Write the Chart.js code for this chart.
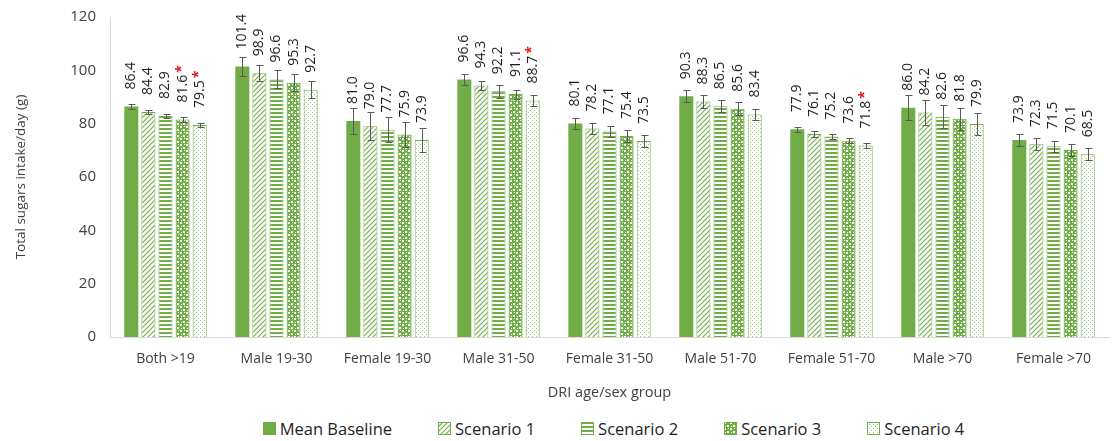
<!DOCTYPE html>
<html>
<head>
<meta charset="utf-8">
<script src="https://cdn.jsdelivr.net/npm/chart.js@4.4.1/dist/chart.umd.min.js"></script>
<style>
    html, body { margin: 0; padding: 0; background: #fff; }
    #wrap { position: relative; width: 1115px; height: 441px; }
    #chartBox { position: absolute; left: 0; top: 0; }
    #legend {
        position: absolute; left: 114px; right: 2px; top: 416px; height: 24px;
        display: flex; justify-content: center; align-items: center;
        font-family: "Open Sans", sans-serif; font-size: 16.5px; color: #1f1f1f;
    }
    #legend .item { display: flex; align-items: center; margin: 0 23px; }
    #legend canvas { width: 13px; height: 13px; margin-right: 4px; }
</style>
</head>
<body>
<div id="wrap">
    <canvas id="chartBox" width="1115" height="412"></canvas>
    <div id="legend"></div>
</div>
<script>
// Data
const categories = ['Both >19', 'Male 19-30', 'Female 19-30', 'Male 31-50', 'Female 31-50',
    'Male 51-70', 'Female 51-70', 'Male >70', 'Female >70'];
const seriesNames = ['Mean Baseline', 'Scenario 1', 'Scenario 2', 'Scenario 3', 'Scenario 4'];

const baseline  = [86.4, 101.4, 81.0, 96.6, 80.1, 90.3, 77.9, 86.0, 73.9];
const scenario1 = [84.4, 98.9, 79.0, 94.3, 78.2, 88.3, 76.1, 84.2, 72.3];
const scenario2 = [82.9, 96.6, 77.7, 92.2, 77.1, 86.5, 75.2, 82.6, 71.5];
const scenario3 = [81.6, 95.3, 75.9, 91.1, 75.4, 85.6, 73.6, 81.8, 70.1];
const scenario4 = [79.5, 92.7, 73.9, 88.7, 73.5, 83.4, 71.8, 79.9, 68.5];

// standard errors (half-length of whiskers)
const baselineErr  = [1.0, 3.6, 5.0, 2.2, 2.2, 2.2, 0.9, 4.8, 2.2];
const scenario1Err = [0.9, 3.0, 5.2, 1.6, 2.2, 2.4, 1.0, 4.6, 2.2];
const scenario2Err = [0.9, 3.4, 4.7, 2.4, 2.0, 2.2, 1.0, 4.4, 2.1];
const scenario3Err = [0.8, 3.2, 4.6, 1.7, 2.2, 2.5, 1.0, 4.2, 2.2];
const scenario4Err = [0.8, 3.2, 4.4, 2.0, 2.2, 2.1, 1.0, 4.0, 2.2];

// significant difference markers (red asterisk)
const baselineSig  = [false, false, false, false, false, false, false, false, false];
const scenario1Sig = [false, false, false, false, false, false, false, false, false];
const scenario2Sig = [false, false, false, false, false, false, false, false, false];
const scenario3Sig = [true, false, false, false, false, false, false, false, false];
const scenario4Sig = [true, false, false, true, false, false, true, false, false];

const yMin = 0, yMax = 120, yStep = 20;

const GREEN = '#70AD47';
const FONT = '"Open Sans", sans-serif';

// Pattern fills like Excel's pattern presets
function makePattern(kind) {
    const c = document.createElement('canvas');
    const g = c.getContext('2d');
    if (kind === 'diag') {
        c.width = c.height = 5;
        g.fillStyle = '#fff';
        g.fillRect(0, 0, 5, 5);
        g.strokeStyle = GREEN;
        g.lineWidth = 1.1;
        g.beginPath();
        g.moveTo(-1, 6); g.lineTo(6, -1);
        g.moveTo(-1, 1); g.lineTo(1, -1);
        g.moveTo(4, 6); g.lineTo(6, 4);
        g.stroke();
    } else if (kind === 'horiz') {
        c.width = c.height = 4;
        g.fillStyle = '#fff';
        g.fillRect(0, 0, 4, 4);
        g.fillStyle = GREEN;
        g.fillRect(0, 0, 4, 2);
    } else if (kind === 'confetti') {
        c.width = c.height = 6;
        g.fillStyle = GREEN;
        g.fillRect(0, 0, 6, 6);
        g.fillStyle = '#fff';
        g.fillRect(0, 0, 2, 2);
        g.fillRect(3, 3, 2, 2);
        g.fillRect(4, 0, 1, 1);
        g.fillRect(1, 4, 1, 1);
    } else {
        c.width = c.height = 4;
        g.fillStyle = '#fff';
        g.fillRect(0, 0, 4, 4);
        g.fillStyle = '#9cc97e';
        g.fillRect(0, 0, 1, 1);
        g.fillRect(2, 2, 1, 1);
    }
    return g.createPattern(c, 'repeat');
}

const fills = [GREEN, makePattern('diag'), makePattern('horiz'), makePattern('confetti'), makePattern('dots')];
const seriesData = [baseline, scenario1, scenario2, scenario3, scenario4];
const seriesErr = [baselineErr, scenario1Err, scenario2Err, scenario3Err, scenario4Err];
const seriesSig = [baselineSig, scenario1Sig, scenario2Sig, scenario3Sig, scenario4Sig];

const datasets = seriesNames.map((name, i) => ({
    label: name,
    data: seriesData[i],
    errors: seriesErr[i],
    sig: seriesSig[i],
    backgroundColor: fills[i],
    borderColor: GREEN,
    borderWidth: i === 0 ? 0 : 1,
    categoryPercentage: 0.77,
    barPercentage: 0.82
}));

// Error bars drawn on top of the bars
const errorBarPlugin = {
    id: 'errorBars',
    afterDatasetsDraw(chart) {
        const ctx = chart.ctx;
        const y = chart.scales.y;
        ctx.save();
        ctx.strokeStyle = '#595959';
        ctx.lineWidth = 1;
        chart.data.datasets.forEach((ds, i) => {
            chart.getDatasetMeta(i).data.forEach((bar, j) => {
                const v = ds.data[j], e = ds.errors[j];
                const top = Math.round(y.getPixelForValue(v + e)) + 0.5;
                const bot = Math.round(y.getPixelForValue(v - e)) + 0.5;
                const x = Math.round(bar.x) + 0.5;
                ctx.beginPath();
                ctx.moveTo(x, top); ctx.lineTo(x, bot);
                ctx.moveTo(x - 3, top); ctx.lineTo(x + 4, top);
                ctx.moveTo(x - 3, bot); ctx.lineTo(x + 4, bot);
                ctx.stroke();
            });
        });
        ctx.restore();
    }
};

// Rotated value labels with significance asterisk
const valueLabelPlugin = {
    id: 'valueLabels',
    afterDatasetsDraw(chart) {
        const ctx = chart.ctx;
        ctx.save();
        chart.data.datasets.forEach((ds, i) => {
            chart.getDatasetMeta(i).data.forEach((bar, j) => {
                const txt = ds.data[j].toFixed(1);
                ctx.save();
                ctx.translate(bar.x, bar.y - 17);
                ctx.rotate(-Math.PI / 2);
                ctx.font = '14px ' + FONT;
                ctx.fillStyle = '#1f1f1f';
                ctx.textAlign = 'left';
                ctx.textBaseline = 'middle';
                ctx.fillText(txt, 0, 0);
                if (ds.sig[j]) {
                    const w = ctx.measureText(txt).width;
                    ctx.font = 'bold 14px ' + FONT;
                    ctx.fillStyle = '#e8141b';
                    ctx.fillText('*', w + 2, -1);
                }
                ctx.restore();
            });
        });
        ctx.restore();
    }
};

const chart = new Chart(document.getElementById('chartBox'), {
    type: 'bar',
    data: { labels: categories, datasets: datasets },
    plugins: [errorBarPlugin, valueLabelPlugin],
    options: {
        responsive: false,
        animation: false,
        layout: { padding: { top: 17, right: 6, left: 0, bottom: 0 } },
        plugins: {
            legend: { display: false },
            tooltip: { enabled: false }
        },
        scales: {
            x: {
                grid: { display: false, drawTicks: false },
                border: { color: '#d9d9d9' },
                ticks: { color: '#404040', font: { family: FONT, size: 14 }, padding: 14, maxRotation: 0 },
                title: {
                    display: true, text: 'DRI age/sex group', color: '#404040',
                    font: { family: FONT, size: 14.5 }, padding: { top: 4, bottom: 10 }
                },
                afterFit(scale) { scale.height = 75; }
            },
            y: {
                min: yMin, max: yMax,
                grid: { display: false, drawTicks: false },
                border: { color: '#d9d9d9' },
                ticks: { stepSize: yStep, color: '#404040', font: { family: FONT, size: 15 }, padding: 14 },
                title: {
                    display: true, text: 'Total sugars intake/day (g)', color: '#404040',
                    font: { family: FONT, size: 13.5 }, padding: { top: 13, bottom: 10 }
                },
                afterFit(scale) {
                    scale.width = 110;
                    scale.paddingTop = 0;
                    scale.paddingBottom = 0;
                }
            }
        }
    }
});

// HTML legend with pattern swatches
const legendEl = document.getElementById('legend');
chart.data.datasets.forEach((ds) => {
    const item = document.createElement('div');
    item.className = 'item';
    const sw = document.createElement('canvas');
    sw.width = 13; sw.height = 13;
    const g = sw.getContext('2d');
    g.fillStyle = ds.backgroundColor;
    g.fillRect(0, 0, 13, 13);
    if (ds.borderWidth) {
        g.strokeStyle = GREEN;
        g.strokeRect(0.5, 0.5, 12, 12);
    }
    const label = document.createElement('span');
    label.textContent = ds.label;
    item.appendChild(sw);
    item.appendChild(label);
    legendEl.appendChild(item);
});
</script>
</body>
</html>
